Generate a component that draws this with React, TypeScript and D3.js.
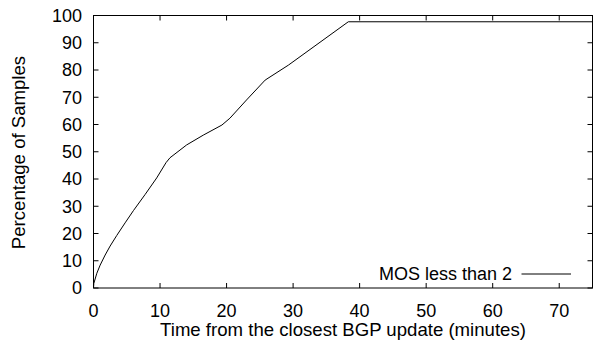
import React from "react";
import * as d3 from "d3";

const timeMinutes = [0, 0.05, 0.5, 1, 1.75, 2.5, 3.5, 4.75, 6, 7.75, 9.5, 10.9, 11.5, 14, 16.5, 19.3, 20.5, 23, 25.8, 29.3, 38.3, 75];
const percentSamples = [0, 1.7, 5.4, 8.4, 12.1, 15.4, 19.3, 23.9, 28.4, 34.3, 40.4, 46, 47.8, 52.5, 56.1, 59.8, 62.3, 69, 76.3, 81.8, 97.7, 97.7];
const xTicks = [0, 10, 20, 30, 40, 50, 60, 70];
const yTicks = [0, 10, 20, 30, 40, 50, 60, 70, 80, 90, 100];
const seriesName = "MOS less than 2";
const xLabel = "Time from the closest BGP update (minutes)";
const yLabel = "Percentage of Samples";

const W = 594;
const H = 343;
const L = 93.5, R = 592.5, T = 15.5, B = 288;
const FONT = "'Liberation Sans', Arial, Helvetica, sans-serif";
const FS = 18;
const FSL = 18.6;

export default function App() {
  const x = d3.scaleLinear().domain([0, 75]).range([L, R]);
  const y = d3.scaleLinear().domain([0, 100]).range([B, T]);
  const pts: [number, number][] = timeMinutes.map((t, i) => [t, percentSamples[i]]);
  const line = d3.line<[number, number]>().x(d => x(d[0])).y(d => y(d[1]));
  const tl = 5;
  return (
    <svg width={W} height={H} style={{ position: "absolute", left: 0, top: 0, display: "block" }} fontFamily={FONT}>
      <rect x={0} y={0} width={W} height={H} fill="white" />
      {yTicks.map(v => (
        <g key={"y" + v}>
          <line x1={L} x2={L + tl} y1={y(v)} y2={y(v)} stroke="black" />
          <line x1={R} x2={R - tl} y1={y(v)} y2={y(v)} stroke="black" />
          <text x={82} y={y(v)} dy="0.35em" textAnchor="end" fontSize={FS}>{v}</text>
        </g>
      ))}
      {xTicks.map(v => (
        <g key={"x" + v}>
          <line x1={x(v)} x2={x(v)} y1={B} y2={B - tl} stroke="black" />
          <line x1={x(v)} x2={x(v)} y1={T} y2={T + tl} stroke="black" />
          <text x={x(v)} y={316.5} textAnchor="middle" fontSize={FS}>{v}</text>
        </g>
      ))}
      <rect x={L} y={T} width={R - L} height={B - T} fill="none" stroke="black" strokeWidth={1} />
      <path d={line(pts) || ""} fill="none" stroke="black" strokeWidth={1} />
      <text x={512} y={280} textAnchor="end" fontSize={FS}>{seriesName}</text>
      <line x1={521.5} x2={571} y1={274} y2={274} stroke="black" />
      <text x={343} y={336} textAnchor="middle" fontSize={FSL}>{xLabel}</text>
      <text transform={`translate(25,${(58 + 247) / 2}) rotate(-90)`} textAnchor="middle" fontSize={FSL}>{yLabel}</text>
    </svg>
  );
}
